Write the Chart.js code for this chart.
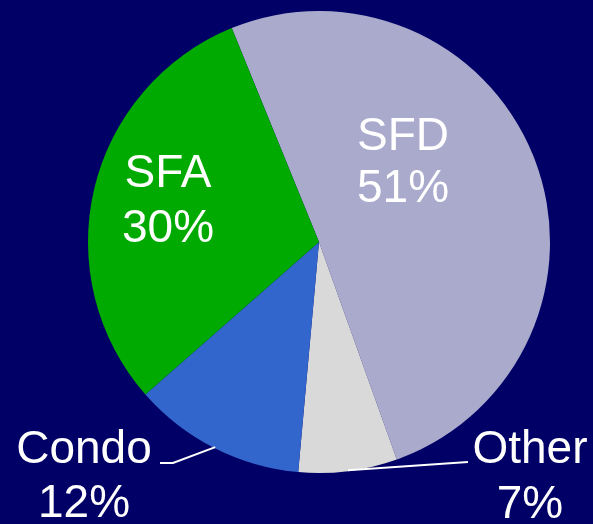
<!DOCTYPE html>
<html>
<head>
<meta charset="utf-8">
<script src="https://cdn.jsdelivr.net/npm/chart.js@4/dist/chart.umd.min.js"></script>
<style>
  html, body { margin: 0; padding: 0; background: #000066; }
  canvas { display: block; }
</style>
</head>
<body>
<canvas id="c" width="593" height="524"></canvas>
<script>
const categories = ['SFD', 'Other', 'Condo', 'SFA'];
// slice sizes (labels show the rounded values)
const shares = [50.7, 6.9, 12.1, 30.3];
const percentLabels = ['51%', '7%', '12%', '30%'];
const sliceColors = ['#AAAACC', '#D9D9D9', '#3366CC', '#00AA00'];

// label placement relative to the pie centre (text positions, not marks)
const labelSpots = [
  { dx: 84,   b1: -92, b2: -40, leader: null },
  { dx: 211,  b1: 221, b2: 276, leader: [[468, 462]] },
  { dx: -235, b1: 221, b2: 275, leader: [[173, 463], [160, 463]] },
  { dx: -151, b1: -55, b2: 0,   leader: null }
];

const labelPlugin = {
  id: 'sliceLabels',
  afterDatasetsDraw(chart) {
    const ctx = chart.ctx;
    const meta = chart.getDatasetMeta(0);
    ctx.save();
    ctx.fillStyle = '#FFFFFF';
    ctx.strokeStyle = '#FFFFFF';
    ctx.lineWidth = 2;
    ctx.font = '46px "Liberation Sans", Arial, sans-serif';
    ctx.textAlign = 'center';
    ctx.textBaseline = 'alphabetic';
    meta.data.forEach((arc, i) => {
      const p = arc.getProps(['x', 'y', 'startAngle', 'endAngle', 'outerRadius'], true);
      const spot = labelSpots[i];
      if (spot.leader) {
        const mid = (p.startAngle + p.endAngle) / 2;
        const sx = p.x + Math.cos(mid) * (p.outerRadius - 2);
        const sy = p.y + Math.sin(mid) * (p.outerRadius - 2);
        ctx.beginPath();
        ctx.moveTo(sx, sy + 1);
        spot.leader.forEach(pt => ctx.lineTo(pt[0], pt[1]));
        ctx.stroke();
      }
      ctx.fillText(categories[i], p.x + spot.dx, p.y + spot.b1);
      ctx.fillText(percentLabels[i], p.x + spot.dx, p.y + spot.b2);
    });
    ctx.restore();
  }
};

new Chart(document.getElementById('c'), {
  type: 'pie',
  data: {
    labels: categories,
    datasets: [{
      data: shares,
      backgroundColor: sliceColors,
      borderWidth: 0
    }]
  },
  options: {
    responsive: false,
    animation: false,
    rotation: -22.2,
    layout: { padding: { left: 45, right: 0, top: 11, bottom: 51 } },
    plugins: {
      legend: { display: false },
      tooltip: { enabled: false }
    }
  },
  plugins: [labelPlugin]
});
</script>
</body>
</html>
